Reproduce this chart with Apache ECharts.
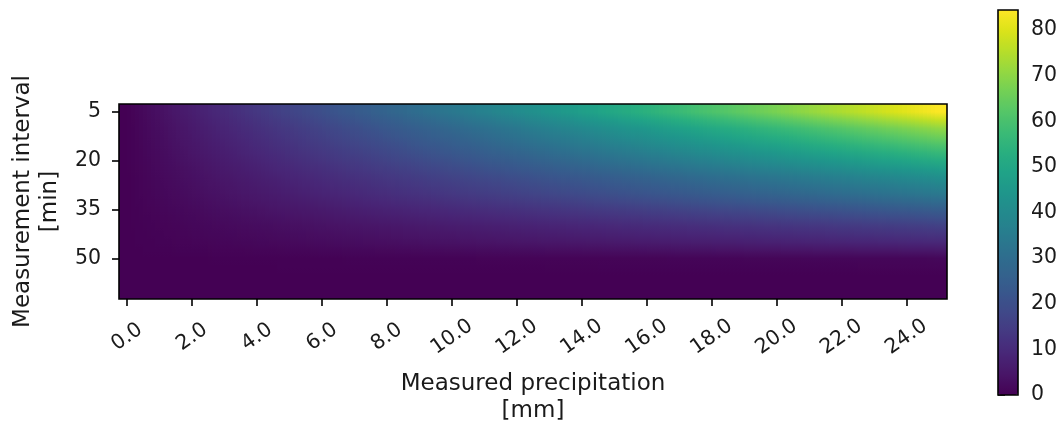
<!DOCTYPE html>
<html>
<head>
<meta charset="utf-8">
<script src="https://cdn.jsdelivr.net/npm/echarts@6/dist/echarts.min.js"></script>
<style>
html,body{margin:0;padding:0;background:#fff;}
#chart{width:1064px;height:426px;}
</style>
</head>
<body>
<div id="chart"></div>
<script>
// Categories
const precip = ['0.0','0.5','1.0','1.5','2.0','2.5','3.0','3.5','4.0','4.5','5.0','5.5','6.0','6.5','7.0','7.5','8.0','8.5','9.0','9.5','10.0','10.5','11.0','11.5','12.0','12.5','13.0','13.5','14.0','14.5','15.0','15.5','16.0','16.5','17.0','17.5','18.0','18.5','19.0','19.5','20.0','20.5','21.0','21.5','22.0','22.5','23.0','23.5','24.0','24.5','25.0'];
const intervals = ['5','10','15','20','25','30','35','40','45','50','55','60'];
const colorbarTicks = [0,10,20,30,40,50,60,70,80];

// Values per measurement interval row (one value per precipitation column)
const row5  = [0,1.7,3.4,5.1,6.7,8.4,10.1,11.8,13.5,15.2,16.9,18.5,20.2,21.9,23.6,25.3,27.0,28.6,30.3,32.0,33.7,35.4,37.1,38.8,40.4,42.1,43.8,45.5,47.2,48.9,50.6,52.2,53.9,55.6,57.3,59.0,60.7,62.3,64.0,65.7,67.4,69.1,70.8,72.5,74.1,75.8,77.5,79.2,80.9,82.6,84.3];
const row10 = [0,1.4,2.8,4.2,5.6,7.1,8.5,9.9,11.3,12.7,14.1,15.5,16.9,18.3,19.7,21.2,22.6,24.0,25.4,26.8,28.2,29.6,31.0,32.4,33.8,35.3,36.7,38.1,39.5,40.9,42.3,43.7,45.1,46.5,47.9,49.4,50.8,52.2,53.6,55.0,56.4,57.8,59.2,60.6,62.0,63.5,64.9,66.3,67.7,69.1,70.5];
const row15 = [0,1.2,2.4,3.7,4.9,6.1,7.3,8.5,9.8,11.0,12.2,13.4,14.6,15.9,17.1,18.3,19.5,20.7,22.0,23.2,24.4,25.6,26.8,28.1,29.3,30.5,31.7,32.9,34.2,35.4,36.6,37.8,39.0,40.3,41.5,42.7,43.9,45.1,46.4,47.6,48.8,50.0,51.2,52.5,53.7,54.9,56.1,57.3,58.6,59.8,61.0];
const row20 = [0,1.0,2.1,3.1,4.1,5.2,6.2,7.2,8.2,9.3,10.3,11.3,12.4,13.4,14.4,15.5,16.5,17.5,18.5,19.6,20.6,21.6,22.7,23.7,24.7,25.8,26.8,27.8,28.8,29.9,30.9,31.9,33.0,34.0,35.0,36.1,37.1,38.1,39.1,40.2,41.2,42.2,43.3,44.3,45.3,46.4,47.4,48.4,49.4,50.5,51.5];
const row25 = [0,0.8,1.7,2.5,3.3,4.2,5.0,5.8,6.7,7.5,8.4,9.2,10.0,10.9,11.7,12.5,13.4,14.2,15.0,15.9,16.7,17.5,18.4,19.2,20.0,20.9,21.7,22.5,23.4,24.2,25.1,25.9,26.7,27.6,28.4,29.2,30.1,30.9,31.7,32.6,33.4,34.2,35.1,35.9,36.7,37.6,38.4,39.2,40.1,40.9,41.8];
const row30 = [0,0.7,1.4,2.0,2.7,3.4,4.1,4.8,5.4,6.1,6.8,7.5,8.2,8.8,9.5,10.2,10.9,11.6,12.2,12.9,13.6,14.3,15.0,15.6,16.3,17.0,17.7,18.4,19.0,19.7,20.4,21.1,21.8,22.4,23.1,23.8,24.5,25.2,25.8,26.5,27.2,27.9,28.6,29.2,29.9,30.6,31.3,32.0,32.6,33.3,34.0];
const row35 = [0,0.5,1.0,1.5,1.9,2.4,2.9,3.4,3.9,4.4,4.9,5.3,5.8,6.3,6.8,7.3,7.8,8.2,8.7,9.2,9.7,10.2,10.7,11.2,11.6,12.1,12.6,13.1,13.6,14.1,14.6,15.0,15.5,16.0,16.5,17.0,17.5,17.9,18.4,18.9,19.4,19.9,20.4,20.9,21.3,21.8,22.3,22.8,23.3,23.8,24.3];
const row40 = [0,0.3,0.6,0.9,1.3,1.6,1.9,2.2,2.5,2.8,3.2,3.5,3.8,4.1,4.4,4.7,5.0,5.4,5.7,6.0,6.3,6.6,6.9,7.2,7.6,7.9,8.2,8.5,8.8,9.1,9.5,9.8,10.1,10.4,10.7,11.0,11.3,11.7,12.0,12.3,12.6,12.9,13.2,13.5,13.9,14.2,14.5,14.8,15.1,15.4,15.8];
const row45 = [0,0.2,0.4,0.6,0.8,1.0,1.1,1.3,1.5,1.7,1.9,2.1,2.3,2.5,2.7,2.9,3.0,3.2,3.4,3.6,3.8,4.0,4.2,4.4,4.6,4.8,4.9,5.1,5.3,5.5,5.7,5.9,6.1,6.3,6.5,6.7,6.8,7.0,7.2,7.4,7.6,7.8,8.0,8.2,8.4,8.6,8.7,8.9,9.1,9.3,9.5];
const row50 = [0,0,0.1,0.1,0.1,0.1,0.2,0.2,0.2,0.2,0.3,0.3,0.3,0.3,0.4,0.4,0.4,0.4,0.5,0.5,0.5,0.5,0.6,0.6,0.6,0.6,0.7,0.7,0.7,0.7,0.8,0.8,0.8,0.8,0.9,0.9,0.9,0.9,1.0,1.0,1.0,1.0,1.1,1.1,1.1,1.1,1.2,1.2,1.2,1.2,1.3];
const row55 = [0,0,0,0,0,0,0,0,0,0,0,0,0,0,0,0,0,0,0,0,0,0,0,0,0,0,0,0,0,0,0,0,0,0,0,0,0,0,0,0,0,0,0,0,0,0,0,0,0,0,0];
const row60 = [0,0,0,0,0,0,0,0,0,0,0,0,0,0,0,0,0,0,0,0,0,0,0,0,0,0,0,0,0,0,0,0,0,0,0,0,0,0,0,0,0,0,0,0,0,0,0,0,0,0,0];

const rows = [row5,row10,row15,row20,row25,row30,row35,row40,row45,row50,row55,row60];
const heatData = [];
rows.forEach((r, yi) => r.forEach((v, xi) => heatData.push([xi, yi, v])));

const viridis = ['#440154','#481567','#482677','#453781','#404788','#39568c','#33638d','#2d708e','#287d8e','#238a8d','#1f968b','#20a387','#29af7f','#3cbb75','#55c667','#73d055','#95d840','#b8de29','#dce319','#fde725'];
const VMIN = 0, VMAX = 84.4;

const FONT = 'DejaVu Sans';
const FS = 20.5;
const FS_NAME = 23;
const TXT = '#1a1a1a';

// Smooth (bilinear-like) shading of each cell, as imshow interpolation does
function cellVal(xi, yi) {
  const x = Math.max(0, Math.min(precip.length - 1, xi));
  const y = Math.max(0, Math.min(intervals.length - 1, yi));
  return rows[y][x];
}
function hVal(xi, yi, f) {
  const n = f < 0 ? xi - 1 : xi + 1;
  const w = Math.abs(f);
  return cellVal(xi, yi) * (1 - w) + cellVal(n, yi) * w;
}
function colorOf(v) {
  const t = Math.max(0, Math.min(1, (v - VMIN) / (VMAX - VMIN)));
  return echarts.color.lerp(t, viridis);
}

const NS = 4;
function renderCell(params, api) {
  const xi = api.value(0), yi = api.value(1);
  const c = api.coord([xi, yi]);
  const s = api.size([1, 1]);
  const l = Math.round(c[0] - s[0] / 2), r = Math.round(c[0] + s[0] / 2);
  const t = Math.round(c[1] - s[1] / 2), b = Math.round(c[1] + s[1] / 2);
  const canLerp = echarts.color && typeof echarts.color.lerp === 'function';
  if (!canLerp) {
    return {type: 'rect', shape: {x: l, y: t, width: r - l, height: b - t}, style: {fill: api.visual('color')}};
  }
  const children = [];
  for (let k = 0; k < NS; k++) {
    const x0 = l + Math.round(k * (r - l) / NS);
    const x1 = l + Math.round((k + 1) * (r - l) / NS);
    const f = (k + 0.5) / NS - 0.5;
    const vm = hVal(xi, yi, f);
    const vu = hVal(xi, yi - 1, f);
    const vd = hVal(xi, yi + 1, f);
    children.push({
      type: 'rect',
      shape: {x: x0, y: t, width: x1 - x0, height: b - t},
      style: {
        fill: {
          type: 'linear', x: 0, y: 0, x2: 0, y2: 1,
          colorStops: [
            {offset: 0, color: colorOf((vm + vu) / 2)},
            {offset: 0.5, color: colorOf(vm)},
            {offset: 1, color: colorOf((vm + vd) / 2)}
          ]
        }
      }
    });
  }
  return {type: 'group', children: children};
}

const chart = echarts.init(document.getElementById('chart'), null, {renderer: 'canvas'});
chart.setOption({
  animation: false,
  backgroundColor: '#fff',
  grid: [
    {left: 119, top: 104, width: 828, height: 195, show: true, borderColor: '#000', borderWidth: 1.6, z: 10},
    {left: 998, top: 10, width: 20, height: 385, show: true, borderColor: '#000', borderWidth: 1.6, z: 10}
  ],
  xAxis: [
    {
      type: 'category', gridIndex: 0, data: precip, position: 'bottom',
      axisLine: {show: false},
      axisTick: {show: true, interval: 3, alignWithLabel: true, length: 7, lineStyle: {color: '#000', width: 1.6}},
      axisLabel: {interval: 3, rotate: 35, align: 'center', verticalAlign: 'middle', margin: 38,
                  fontFamily: FONT, fontSize: FS, color: TXT},
      splitLine: {show: false},
      name: 'Measured precipitation\n[mm]', nameLocation: 'middle', nameGap: 72,
      nameTextStyle: {fontFamily: FONT, fontSize: FS_NAME, color: TXT, lineHeight: 27, align: 'center'}
    },
    {type: 'value', gridIndex: 1, show: false, min: 0, max: 1}
  ],
  yAxis: [
    {
      type: 'category', gridIndex: 0, data: intervals, inverse: true, position: 'left',
      axisLine: {show: false},
      axisTick: {show: true, interval: 2, alignWithLabel: true, length: 7, lineStyle: {color: '#000', width: 1.6}},
      axisLabel: {interval: 2, margin: 18, fontFamily: FONT, fontSize: FS, color: TXT},
      splitLine: {show: false},
      name: 'Measurement interval\n[min]', nameLocation: 'middle', nameGap: 53,
      nameTextStyle: {fontFamily: FONT, fontSize: FS_NAME, color: TXT, lineHeight: 27, align: 'center'}
    },
    {
      type: 'value', gridIndex: 1, position: 'right', min: VMIN, max: VMAX, interval: 10,
      axisLine: {show: false},
      axisTick: {show: true, length: 7, customValues: colorbarTicks, lineStyle: {color: '#000', width: 1.6}},
      axisLabel: {margin: 13, customValues: colorbarTicks, fontFamily: FONT, fontSize: FS, color: TXT},
      splitLine: {show: false}
    }
  ],
  visualMap: {
    type: 'continuous', min: VMIN, max: VMAX, seriesIndex: 0, dimension: 2, calculable: false,
    orient: 'vertical', left: 998, top: 10, itemWidth: 20, itemHeight: 385, padding: 0,
    text: null, hoverLink: false,
    inRange: {color: viridis}
  },
  series: [{
    type: 'custom', xAxisIndex: 0, yAxisIndex: 0, data: heatData,
    encode: {x: 0, y: 1},
    renderItem: renderCell,
    silent: true
  }]
});
</script>
</body>
</html>
